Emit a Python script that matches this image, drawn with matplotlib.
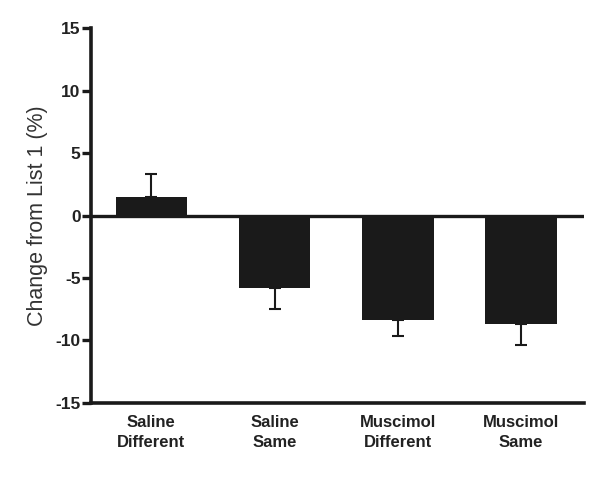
import matplotlib.pyplot as plt

# Groups and values
groups = ["Saline\nDifferent", "Saline\nSame", "Muscimol\nDifferent", "Muscimol\nSame"]
change = [1.46, -5.78, -8.34, -8.66]
sem = [1.88, 1.74, 1.32, 1.68]

plt.rcParams['font.family'] = ['Liberation Sans', 'DejaVu Sans']
plt.rcParams['axes.unicode_minus'] = False

fig = plt.figure(figsize=(6.01, 4.79), dpi=100)
ax = fig.add_axes([0.1514, 0.1587, 0.8203, 0.7828])

x = list(range(len(groups)))
ax.bar(x, change, width=0.58, color='#1a1a1a', zorder=2)

# error bars only on the side away from zero
lower = [s if v < 0 else 0 for v, s in zip(change, sem)]
upper = [s if v >= 0 else 0 for v, s in zip(change, sem)]
ax.errorbar(x, change, yerr=[lower, upper], fmt='none', ecolor='#1a1a1a',
            elinewidth=1.5, capsize=4, capthick=1.5, zorder=1)

ax.axhline(0, color='#1a1a1a', linewidth=2.4, zorder=3)

ax.set_xlim(-0.49, 3.51)
ax.set_ylim(-15, 15)
ax.set_yticks([-15, -10, -5, 0, 5, 10, 15])
ax.set_xticks(x)
ax.set_xticklabels(groups, fontsize=12, fontweight='bold', color='#222222',
                   linespacing=1.4)
ax.tick_params(axis='x', length=0, pad=9)
ax.tick_params(axis='y', length=6.5, width=2.4, labelsize=12.5, color='#1a1a1a', pad=1)
for lab in ax.get_yticklabels():
    lab.set_fontweight('bold')
    lab.set_color('#222222')

ax.set_ylabel("Change from List 1 (%)", fontsize=15.5, color='#333333', labelpad=5)

for side in ['top', 'right']:
    ax.spines[side].set_visible(False)
for side in ['left', 'bottom']:
    ax.spines[side].set_linewidth(2.6)
    ax.spines[side].set_color('#1a1a1a')

fig.savefig('out.png', dpi=100)
